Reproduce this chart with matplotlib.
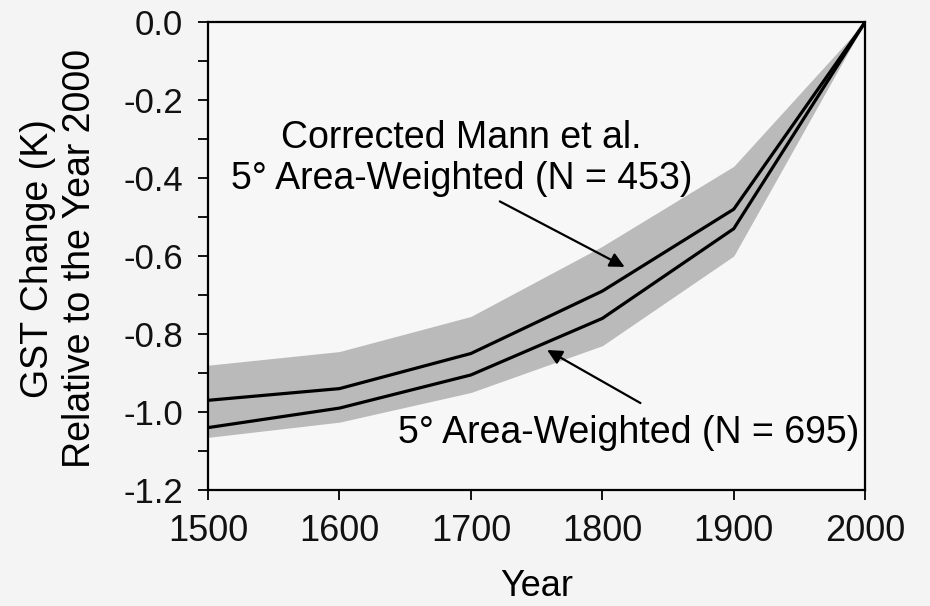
import matplotlib
matplotlib.use("Agg")
import matplotlib.pyplot as plt
from matplotlib.ticker import MultipleLocator

plt.rcParams['font.family'] = ['Liberation Sans', 'DejaVu Sans']

# Century points and the two reconstructions (K, relative to 2000)
years = [1500, 1600, 1700, 1800, 1900, 2000]
mann_453 = [-0.97, -0.94, -0.85, -0.69, -0.48, 0.0]
area_695 = [-1.04, -0.99, -0.905, -0.76, -0.53, 0.0]

# Spread envelope drawn as the shaded band
band_upper = [-0.88, -0.845, -0.755, -0.575, -0.37, 0.0]
band_lower = [-1.065, -1.026, -0.95, -0.83, -0.60, 0.0]

y_ticks = [0.0, -0.2, -0.4, -0.6, -0.8, -1.0, -1.2]

bg = "#f4f4f4"
fig = plt.figure(figsize=(9.3, 6.06), dpi=100, facecolor=bg)
ax = fig.add_axes([0.2237, 0.1914, 0.7066, 0.7723])
ax.set_facecolor("#f7f7f7")

ax.fill_between(years, band_lower, band_upper, color="#bababa", lw=0, zorder=1)
ax.plot(years, mann_453, color="black", lw=2.3, zorder=3)
ax.plot(years, area_695, color="black", lw=2.3, zorder=3)

ax.set_xlim(1500, 2000)
ax.set_ylim(-1.2, 0.0)
ax.set_xticks(years)
ax.set_yticks(y_ticks)
ax.set_yticklabels([f"{v:.1f}" for v in y_ticks])
ax.yaxis.set_minor_locator(MultipleLocator(0.1))
ax.tick_params(axis="both", which="both", direction="out", width=1.4,
               length=7, colors="#111111")
ax.tick_params(axis="y", which="major", labelsize=25, pad=11)
ax.tick_params(axis="x", which="major", labelsize=26, pad=10)
for s in ax.spines.values():
    s.set_linewidth(1.6)

ax.set_xlabel("Year", fontsize=26)
ax.xaxis.set_label_coords(0.5, -0.168)
ax.set_ylabel("GST Change (K)\nRelative to the Year 2000", fontsize=27,
              linespacing=1.2)
ax.yaxis.set_label_coords(-0.168, 0.495)

# Curve labels
ax.text(1693, -0.35, "Corrected Mann et al.\n5° Area-Weighted (N = 453)",
        fontsize=27, ha="center", va="center", linespacing=1.2, zorder=4)
ax.text(1820, -1.079, "5° Area-Weighted (N = 695)",
        fontsize=27, ha="center", va="baseline", zorder=4)

# Pointer arrows onto each curve
arrow = dict(arrowstyle="-|>", color="black", lw=1.6,
             mutation_scale=22, shrinkA=0, shrinkB=0)
ax.annotate("", xy=(1817, -0.628), xytext=(1722, -0.46),
            arrowprops=arrow, zorder=4)
ax.annotate("", xy=(1758, -0.841), xytext=(1829, -0.977),
            arrowprops=arrow, zorder=4)

fig.savefig("out.png", dpi=100, facecolor=bg)
